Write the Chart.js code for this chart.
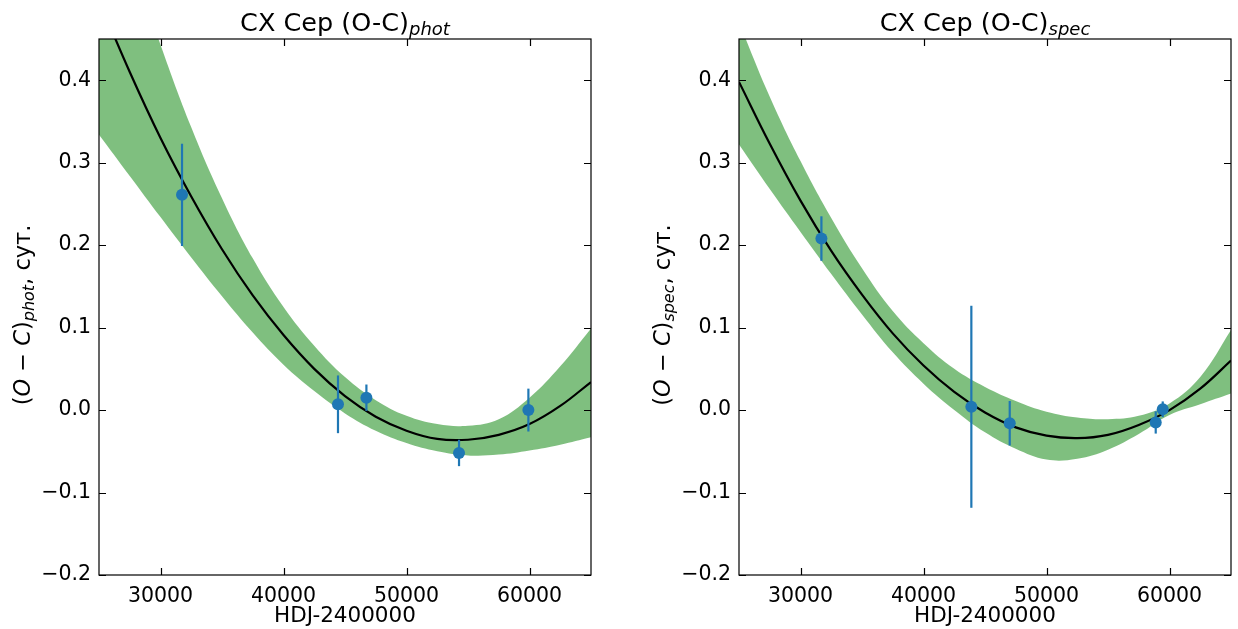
<!DOCTYPE html>
<html>
<head>
<meta charset="utf-8">
<script src="https://cdn.jsdelivr.net/npm/chart.js@4/dist/chart.umd.min.js"></script>
<style>
  body { margin: 0; background: #fff; }
  #wrap { position: relative; width: 1238px; height: 629px; }
  canvas { position: absolute; top: 0; }
</style>
</head>
<body>
<div id="wrap">
  <canvas id="phot" width="619" height="629" style="left:0"></canvas>
  <canvas id="spec" width="598" height="629" style="left:640px"></canvas>
</div>
<script>
// Axis ticks
let xTicks = [30000, 40000, 50000, 60000];
let yTicks = [-0.2, -0.1, 0.0, 0.1, 0.2, 0.3, 0.4];

// Grid of HJD values the model curve and band are read at
let xGrid = [25000, 27500, 30000, 32500, 35000, 37500, 40000, 42500, 45000,
             47500, 50000, 52500, 55000, 57500, 60000, 62500, 65000];

// Photometric O-C
let photModel = [0.497, 0.410, 0.330, 0.259, 0.195, 0.139, 0.091, 0.050, 0.017,
                 -0.008, -0.025, -0.035, -0.036, -0.030, -0.017, 0.005, 0.034];
let photUpper = [0.67, 0.553, 0.443, 0.343, 0.257, 0.184, 0.125, 0.078, 0.040,
                 0.012, -0.007, -0.017, -0.019, -0.011, 0.015, 0.053, 0.099];
let photLower = [0.334, 0.284, 0.234, 0.185, 0.138, 0.094, 0.055, 0.023, -0.004,
                 -0.025, -0.040, -0.050, -0.055, -0.054, -0.049, -0.042, -0.033];
let photX = [31750, 44430, 46740, 54270, 59910];
let photY = [0.261, 0.007, 0.015, -0.052, 0.000];
let photErr = [0.062, 0.035, 0.016, 0.016, 0.026];

// Spectroscopic O-C
let specModel = [0.398, 0.323, 0.254, 0.193, 0.140, 0.093, 0.054, 0.022, -0.003,
                 -0.021, -0.031, -0.034, -0.030, -0.018, 0.000, 0.026, 0.060];
let specUpper = [0.47, 0.38, 0.302, 0.233, 0.172, 0.120, 0.081, 0.050, 0.028,
                 0.011, -0.002, -0.009, -0.011, -0.007, 0.008, 0.040, 0.097];
let specLower = [0.322, 0.268, 0.216, 0.165, 0.116, 0.070, 0.032, 0.000, -0.027,
                 -0.047, -0.060, -0.059, -0.048, -0.029, -0.006, 0.007, 0.020];
let specX = [31700, 43890, 47010, 58880, 59450];
let specY = [0.208, 0.004, -0.016, -0.015, 0.001];
let specErr = [0.027, 0.1225, 0.027, 0.0135, 0.0095];

// Plot area inside each canvas
let plotLeft = 99;
let plotTop = 39;
let plotBottom = 575;
let fontFamily = '"DejaVu Sans", sans-serif';
let pointColor = '#1f77b4';

// per-canvas extras (subscript and error bars)
let extras = {};

function pairs(xs, ys) {
  return xs.map((x, i) => ({ x: x, y: ys[i] }));
}

function fmtY(v) {
  let s = Math.abs(v).toFixed(1);
  return v < -1e-9 ? '\u2212' + s : s;
}

// text made of pieces, some of them italic / subscript
function drawParts(ctx, parts, cx, baseY) {
  let total = 0;
  parts.forEach(p => { ctx.font = p.font; total += ctx.measureText(p.text).width; });
  let x = cx - total / 2;
  ctx.textAlign = 'left';
  ctx.textBaseline = 'alphabetic';
  parts.forEach(p => {
    ctx.font = p.font;
    ctx.fillText(p.text, x, baseY + (p.dy || 0));
    x += ctx.measureText(p.text).width;
  });
}

let framePlugin = {
  id: 'frame',
  beforeDatasetDraw(chart, args) {
    if (args.index !== 3) return;
    let d = extras[chart.canvas.id];
    if (!d) return;
    // error bars, drawn just before the markers
    let ctx = chart.ctx;
    let xs = chart.scales.x, ys = chart.scales.y;
    ctx.save();
    ctx.strokeStyle = pointColor;
    ctx.lineWidth = 2.2;
    d.x.forEach((xv, i) => {
      let px = xs.getPixelForValue(xv);
      ctx.beginPath();
      ctx.moveTo(px, ys.getPixelForValue(d.y[i] - d.err[i]));
      ctx.lineTo(px, ys.getPixelForValue(d.y[i] + d.err[i]));
      ctx.stroke();
    });
    ctx.restore();
  },
  afterDatasetsDraw(chart) {
    let d = extras[chart.canvas.id];
    if (!d) return;
    let ctx = chart.ctx;
    let a = chart.chartArea;
    let xs = chart.scales.x, ys = chart.scales.y;
    ctx.save();
    ctx.strokeStyle = '#000';
    ctx.lineWidth = 1.2;
    ctx.strokeRect(a.left, a.top, a.right - a.left, a.bottom - a.top);
    ctx.beginPath();
    xTicks.forEach(v => {
      let px = Math.round(xs.getPixelForValue(v)) + 0.5;
      ctx.moveTo(px, a.bottom); ctx.lineTo(px, a.bottom - 7);
      ctx.moveTo(px, a.top); ctx.lineTo(px, a.top + 7);
    });
    yTicks.forEach(v => {
      let py = Math.round(ys.getPixelForValue(v)) + 0.5;
      ctx.moveTo(a.left, py); ctx.lineTo(a.left + 7, py);
      ctx.moveTo(a.right, py); ctx.lineTo(a.right - 7, py);
    });
    ctx.stroke();

    // title and y label with subscripts
    let cx = (a.left + a.right) / 2;
    ctx.fillStyle = '#000';
    drawParts(ctx, [
      { text: 'CX Cep (O-C)', font: '25.5px ' + fontFamily },
      { text: d.sub, font: 'italic 18px ' + fontFamily, dy: 4 }
    ], cx, 31);

    ctx.translate(23, (a.top + a.bottom) / 2 + 8);
    ctx.rotate(-Math.PI / 2);
    drawParts(ctx, [
      { text: '(', font: '22.5px ' + fontFamily },
      { text: 'O', font: 'italic 22.5px ' + fontFamily },
      { text: ' \u2212 ', font: '22.5px ' + fontFamily },
      { text: 'C', font: 'italic 22.5px ' + fontFamily },
      { text: ')', font: '22.5px ' + fontFamily },
      { text: d.sub, font: 'italic 16px ' + fontFamily, dy: 4 },
      { text: ', сут.', font: '22.5px ' + fontFamily }
    ], 0, 7);
    ctx.restore();
  }
};

function makeChart(id, sub, model, upper, lower, px, py, perr) {
  let canvas = document.getElementById(id);
  extras[id] = { sub: sub, x: px, y: py, err: perr };
  let rightPad = canvas.width - (plotLeft + 492);
  let tickFont = { family: fontFamily, size: 20.5 };

  return new Chart(canvas, {
    type: 'scatter',
    data: {
      datasets: [
        {
          data: pairs(xGrid, upper),
          showLine: true,
          borderWidth: 0,
          borderColor: 'rgba(0,0,0,0)',
          backgroundColor: 'rgba(0,128,0,0.5)',
          pointRadius: 0,
          tension: 0.4,
          fill: '+1',
          order: 3
        },
        {
          data: pairs(xGrid, lower),
          showLine: true,
          borderWidth: 0,
          borderColor: 'rgba(0,0,0,0)',
          pointRadius: 0,
          tension: 0.4,
          fill: false,
          order: 2
        },
        {
          data: pairs(xGrid, model),
          showLine: true,
          borderColor: '#000',
          borderWidth: 2.2,
          pointRadius: 0,
          tension: 0.4,
          fill: false,
          clip: 0,
          order: 1
        },
        {
          data: pairs(px, py),
          pointRadius: 6,
          pointBackgroundColor: pointColor,
          pointBorderColor: pointColor,
          pointBorderWidth: 0,
          order: 0
        }
      ]
    },
    options: {
      responsive: false,
      animation: false,
      devicePixelRatio: 1,
      layout: { padding: { top: plotTop, right: rightPad, left: 0, bottom: 0 } },
      plugins: {
        legend: { display: false },
        tooltip: { enabled: false }
      },
      scales: {
        x: {
          type: 'linear',
          min: 25000,
          max: 65000,
          afterBuildTicks: s => { s.ticks = xTicks.map(v => ({ value: v })); },
          afterFit: s => { s.height = 629 - plotBottom; },
          grid: { display: false, drawTicks: false },
          border: { display: false },
          ticks: {
            font: tickFont, color: '#000', padding: 9,
            maxRotation: 0, autoSkip: false,
            callback: v => String(v)
          },
          title: {
            display: true, text: 'HDJ-2400000', color: '#000',
            font: { family: fontFamily, size: 21.5 }, padding: { top: 0, bottom: 0 }
          }
        },
        y: {
          type: 'linear',
          min: -0.2,
          max: 0.45,
          afterBuildTicks: s => { s.ticks = yTicks.map(v => ({ value: v })); },
          afterFit: s => { s.width = plotLeft; },
          grid: { display: false, drawTicks: false },
          border: { display: false },
          ticks: {
            font: tickFont, color: '#000', padding: 8,
            autoSkip: false,
            callback: v => fmtY(v)
          }
        }
      }
    },
    plugins: [framePlugin]
  });
}

makeChart('phot', 'phot', photModel, photUpper, photLower, photX, photY, photErr);
makeChart('spec', 'spec', specModel, specUpper, specLower, specX, specY, specErr);
</script>
</body>
</html>
